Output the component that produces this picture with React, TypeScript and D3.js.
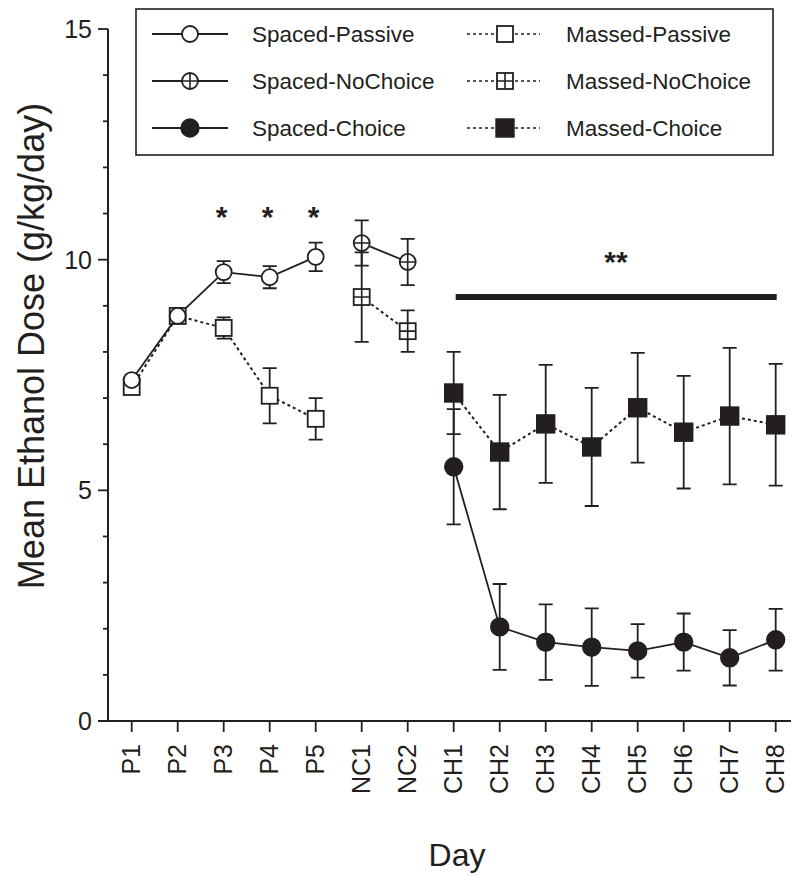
import * as d3 from "d3";

const passiveDays = ["P1", "P2", "P3", "P4", "P5"];
const noChoiceDays = ["NC1", "NC2"];
const choiceDays = ["CH1", "CH2", "CH3", "CH4", "CH5", "CH6", "CH7", "CH8"];
const allDays = [...passiveDays, ...noChoiceDays, ...choiceDays];

const spacedPassive = [7.39, 8.78, 9.73, 9.62, 10.06];
const spacedPassiveErr = [0.1, 0.1, 0.24, 0.24, 0.31];
const massedPassive = [7.24, 8.78, 8.52, 7.05, 6.55];
const massedPassiveErr = [0.1, 0.1, 0.23, 0.6, 0.45];

const spacedNoChoice = [10.36, 9.95];
const spacedNoChoiceErr = [0.49, 0.5];
const massedNoChoice = [9.19, 8.45];
const massedNoChoiceErr = [0.97, 0.45];

const spacedChoice = [5.51, 2.04, 1.71, 1.6, 1.52, 1.71, 1.37, 1.76];
const spacedChoiceErr = [1.25, 0.93, 0.82, 0.84, 0.58, 0.62, 0.6, 0.67];
const massedChoice = [7.11, 5.83, 6.44, 5.94, 6.79, 6.26, 6.61, 6.42];
const massedChoiceErr = [0.89, 1.24, 1.28, 1.28, 1.19, 1.22, 1.48, 1.32];

const yTicks = [0, 5, 10, 15];
const yMinorTicks = d3.range(0, 16);
const starDays = ["P3", "P4", "P5"];
const sigBarValue = 9.19;

const legendItems = [
  { label: "Spaced-Passive", kind: "circle" },
  { label: "Spaced-NoChoice", kind: "circlePlus" },
  { label: "Spaced-Choice", kind: "circleFill" },
  { label: "Massed-Passive", kind: "square" },
  { label: "Massed-NoChoice", kind: "squarePlus" },
  { label: "Massed-Choice", kind: "squareFill" },
];

const INK = "#231f20";
const FONT = "'Liberation Sans', Arial, Helvetica, sans-serif";

const x = d3.scalePoint<string>().domain(allDays).range([131.7, 775.7]);
const y = d3.scaleLinear().domain([0, 15]).range([721, 29]);

function Marker({ kind, cx, cy }: { kind: string; cx: number; cy: number }) {
  const r = 8;
  const h = 8;
  if (kind === "circle" || kind === "circlePlus" || kind === "circleFill") {
    const fill = kind === "circleFill" ? INK : "#fff";
    return (
      <g>
        <circle cx={cx} cy={cy} r={kind === "circleFill" ? 8.8 : r} fill={fill} stroke={INK} strokeWidth={1.8} />
        {kind === "circlePlus" && (
          <path d={`M${cx - r},${cy}H${cx + r}M${cx},${cy - r}V${cy + r}`} stroke={INK} strokeWidth={1.6} />
        )}
      </g>
    );
  }
  const fill = kind === "squareFill" ? INK : "#fff";
  const s = kind === "squareFill" ? 8.8 : h;
  return (
    <g>
      <rect x={cx - s} y={cy - s} width={2 * s} height={2 * s} fill={fill} stroke={INK} strokeWidth={1.8} />
      {kind === "squarePlus" && (
        <path d={`M${cx - h},${cy}H${cx + h}M${cx},${cy - h}V${cy + h}`} stroke={INK} strokeWidth={1.6} />
      )}
    </g>
  );
}

type Series = { days: string[]; vals: number[]; errs: number[]; kind: string; dashed: boolean };

const series: Series[] = [
  { days: passiveDays, vals: massedPassive, errs: massedPassiveErr, kind: "square", dashed: true },
  { days: noChoiceDays, vals: massedNoChoice, errs: massedNoChoiceErr, kind: "squarePlus", dashed: true },
  { days: choiceDays, vals: massedChoice, errs: massedChoiceErr, kind: "squareFill", dashed: true },
  { days: passiveDays, vals: spacedPassive, errs: spacedPassiveErr, kind: "circle", dashed: false },
  { days: noChoiceDays, vals: spacedNoChoice, errs: spacedNoChoiceErr, kind: "circlePlus", dashed: false },
  { days: choiceDays, vals: spacedChoice, errs: spacedChoiceErr, kind: "circleFill", dashed: false },
];

export default function App() {
  const line = d3
    .line<[string, number]>()
    .x((d) => x(d[0]) as number)
    .y((d) => y(d[1]));

  const cap = 7;

  return (
    <svg
      width={791}
      height={876}
      style={{ position: "absolute", left: 0, top: 0, background: "#fff" }}
      fontFamily={FONT}
    >
      {/* y axis */}
      <line x1={108} x2={108} y1={y(15)} y2={y(0)} stroke={INK} strokeWidth={2} />
      {yMinorTicks.map((t) => (
        <line key={"m" + t} x1={yTicks.includes(t) ? 98 : 103} x2={108} y1={y(t)} y2={y(t)} stroke={INK} strokeWidth={1.8} />
      ))}
      {yTicks.map((t) => (
        <text key={"yt" + t} x={92} y={y(t)} dy="0.36em" textAnchor="end" fontSize={25} fill={INK}>
          {t}
        </text>
      ))}
      <text
        transform={`translate(44,346) rotate(-90)`}
        textAnchor="middle"
        fontSize={36}
        fill={INK}
      >
        Mean Ethanol Dose (g/kg/day)
      </text>

      {/* x axis */}
      <line x1={98} x2={800} y1={y(0)} y2={y(0)} stroke={INK} strokeWidth={2} />
      {allDays.map((d) => (
        <g key={"xt" + d}>
          <line x1={x(d)} x2={x(d)} y1={y(0)} y2={y(0) + 11} stroke={INK} strokeWidth={1.8} />
          <text
            transform={`translate(${(x(d) as number) + 8.5},${744}) rotate(-90)`}
            textAnchor="end"
            fontSize={25}
            fill={INK}
          >
            {d}
          </text>
        </g>
      ))}
      <text x={457} y={866} textAnchor="middle" fontSize={32} fill={INK}>
        Day
      </text>

      {/* error bars */}
      {series.map((s, si) =>
        s.days.map((d, i) => {
          const cx = x(d) as number;
          const top = y(s.vals[i] + s.errs[i]);
          const bot = y(s.vals[i] - s.errs[i]);
          return (
            <path
              key={`e${si}-${i}`}
              d={`M${cx},${top}V${bot}M${cx - cap},${top}H${cx + cap}M${cx - cap},${bot}H${cx + cap}`}
              stroke={INK}
              strokeWidth={1.8}
              fill="none"
            />
          );
        })
      )}

      {/* lines */}
      {series.map((s, si) => (
        <path
          key={"l" + si}
          d={line(s.days.map((d, i) => [d, s.vals[i]] as [string, number])) || ""}
          fill="none"
          stroke={INK}
          strokeWidth={s.dashed ? 2 : 1.8}
          strokeDasharray={s.dashed ? "3,3" : undefined}
        />
      ))}

      {/* markers */}
      {series.map((s, si) =>
        s.days.map((d, i) => <Marker key={`p${si}-${i}`} kind={s.kind} cx={x(d) as number} cy={y(s.vals[i])} />)
      )}

      {/* significance */}
      {starDays.map((d) => (
        <text key={"s" + d} x={(x(d) as number) - 2} y={227} textAnchor="middle" fontSize={30} fontWeight="bold" fill={INK}>
          *
        </text>
      ))}
      <text x={616} y={272} textAnchor="middle" fontSize={30} fontWeight="bold" fill={INK}>
        **
      </text>
      <line
        x1={(x("CH1") as number) + 2}
        x2={(x("CH8") as number) + 1}
        y1={y(sigBarValue)}
        y2={y(sigBarValue)}
        stroke={INK}
        strokeWidth={6}
      />

      {/* legend */}
      <rect x={136} y={9} width={637} height={146} fill="#fff" stroke={INK} strokeWidth={1.6} />
      {legendItems.map((it, i) => {
        const col = Math.floor(i / 3);
        const row = i % 3;
        const cy = 34 + row * 47;
        const lx1 = col === 0 ? 152 : 467;
        const lx2 = col === 0 ? 228 : 540;
        const mx = col === 0 ? 190 : 505;
        const tx = col === 0 ? 252 : 566;
        return (
          <g key={"lg" + i}>
            <line
              x1={lx1}
              x2={lx2}
              y1={cy}
              y2={cy}
              stroke={INK}
              strokeWidth={col === 0 ? 1.8 : 1.6}
              strokeDasharray={col === 0 ? undefined : "3,3"}
            />
            <Marker kind={it.kind} cx={mx} cy={cy} />
            <text x={tx} y={cy} dy="0.36em" fontSize={22.5} fill={INK}>
              {it.label}
            </text>
          </g>
        );
      })}
    </svg>
  );
}
